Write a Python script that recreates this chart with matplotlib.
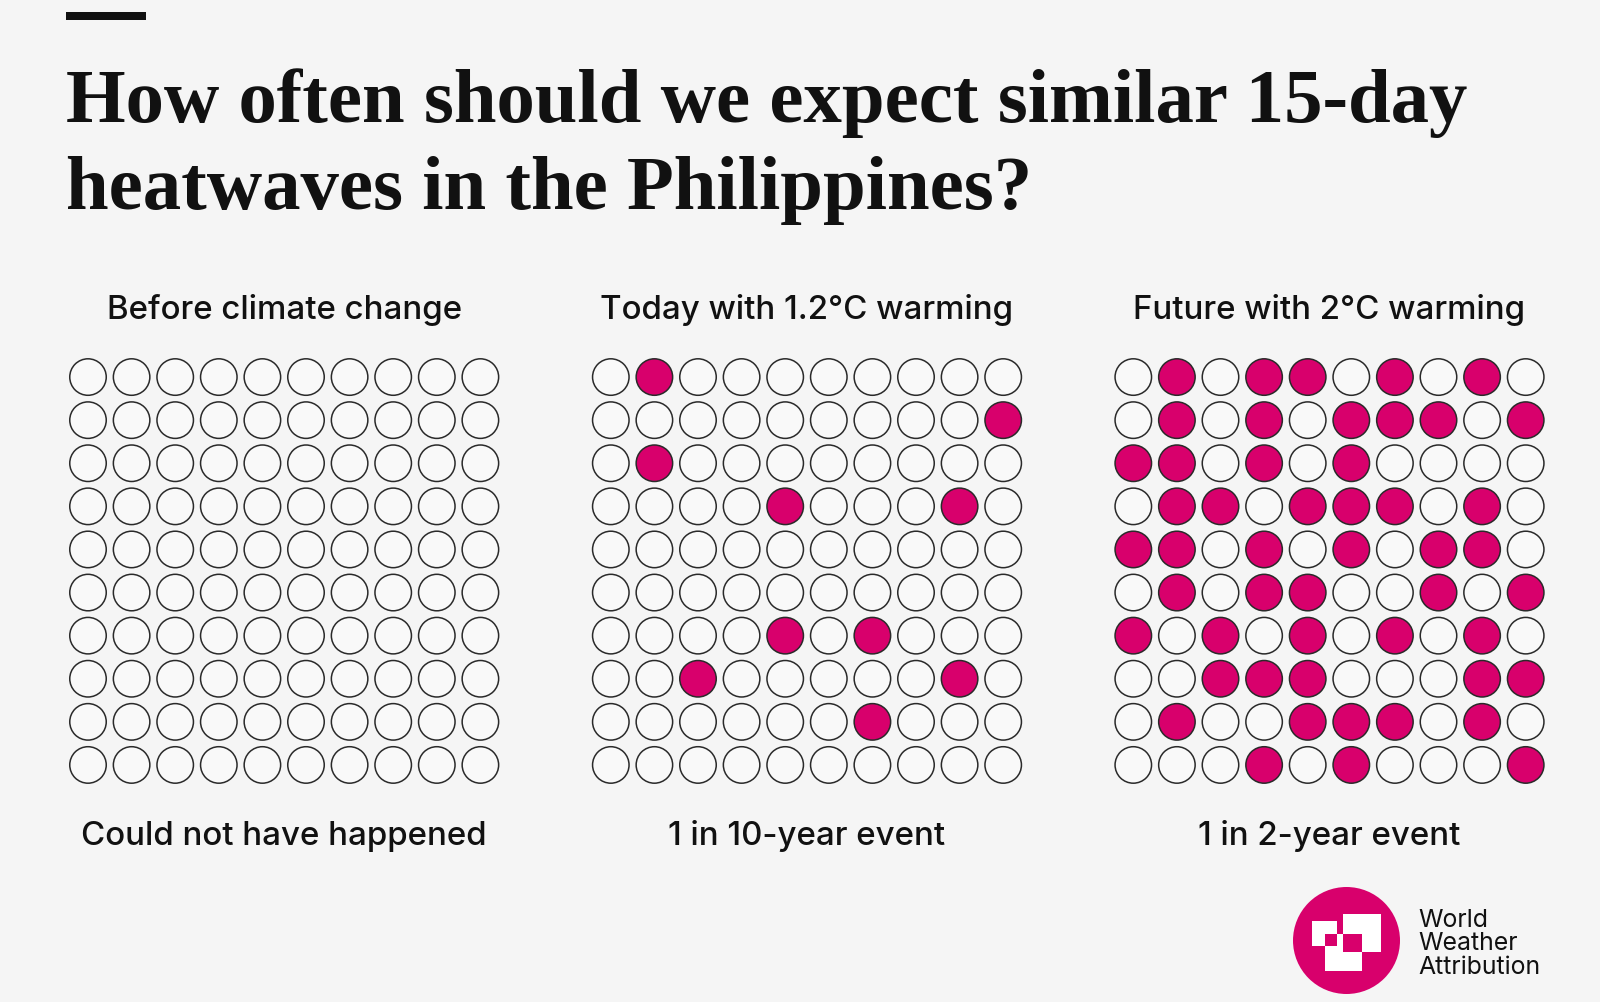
import numpy as np
import matplotlib
matplotlib.use("Agg")
import matplotlib.pyplot as plt
from matplotlib.patches import Circle, Rectangle

# panel headings / footers
panel_titles = ["Before climate change", "Today with 1.2°C warming", "Future with 2°C warming"]
panel_notes = ["Could not have happened", "1 in 10-year event", "1 in 2-year event"]

# 10 x 10 grids, 1 = year with a similar heatwave
before_rows = ["0000000000"] * 10
today_rows = [
    "0100000000",
    "0000000001",
    "0100000000",
    "0000100010",
    "0000000000",
    "0000000000",
    "0000101000",
    "0010000010",
    "0000001000",
    "0000000000",
]
future_rows = [
    "0101101010",
    "0101011101",
    "1101010000",
    "0110111010",
    "1101010110",
    "0101100101",
    "1010101010",
    "0011100011",
    "0100111010",
    "0001010001",
]
grids = [before_rows, today_rows, future_rows]

BG = "#f5f5f5"
MAGENTA = "#d8006c"
INK = "#111111"
W, H = 1600, 1003

fig = plt.figure(figsize=(W / 100, H / 100), dpi=100, facecolor=BG)


def fx(x):
    return x / W


def fy(y):
    return 1 - y / H


# little bar above the title
fig.add_artist(Rectangle((fx(66), fy(20.5)), fx(80), 7.5 / H, transform=fig.transFigure,
                         color=INK, lw=0))

title_font = dict(family=["Liberation Serif", "DejaVu Serif"], weight="bold", size=55.3, color=INK)
fig.text(fx(66), fy(122), "How often should we expect similar 15-day", va="baseline", **title_font)
fig.text(fx(66), fy(209), "heatwaves in the Philippines?", va="baseline", **title_font)

sans = ["Inter", "DejaVu Sans"]
cell_w, cell_h = 43.6, 43.1
grid_left = [66.2, 589, 1111.5]
grid_top = 356.5

for k, rows in enumerate(grids):
    ax = fig.add_axes([fx(grid_left[k]), fy(grid_top + 10 * cell_h), fx(10 * cell_w), 10 * cell_h / H])
    ax.set_facecolor("none")
    mat = np.array([[int(c) for c in r] for r in rows])
    rr, cc = np.indices(mat.shape)
    colors = np.where(mat.ravel() == 1, MAGENTA, "#f9f9f9")
    ax.scatter(cc.ravel(), rr.ravel(), s=690, c=colors, edgecolors="#2a2a2a", linewidths=1.1)
    ax.set_xlim(-0.5, 9.5)
    ax.set_ylim(9.5, -0.5)
    ax.axis("off")

    cx = grid_left[k] + 5 * cell_w
    fig.text(fx(cx), fy(319), panel_titles[k], ha="center", va="baseline",
             family=sans, size=23.8, weight="medium", color=INK)
    fig.text(fx(cx), fy(845), panel_notes[k], ha="center", va="baseline",
             family=sans, size=23.8, weight="medium", color=INK)

# logo
lax = fig.add_axes([fx(1293), fy(995), fx(107), 107 / H])
lax.set_xlim(0, 107)
lax.set_ylim(107, 0)
lax.axis("off")
lax.add_patch(Circle((53.5, 53.5), 53.5, color=MAGENTA, lw=0))
for (x0, y0, w, h), col in [((50, 27, 38, 38), "white"), ((19, 34, 25, 25), "white"),
                            ((32, 47, 37, 37), "white"), ((32, 47, 12, 12), MAGENTA),
                            ((50, 47, 19, 18), MAGENTA)]:
    lax.add_patch(Rectangle((x0, y0), w, h, color=col, lw=0))

for i, word in enumerate(["World", "Weather", "Attribution"]):
    fig.text(fx(1418), fy(927 + i * 23.5), word, va="baseline", family=sans,
             size=17.9, weight="normal", color=INK)

fig.savefig("out.png", dpi=100, facecolor=BG)
